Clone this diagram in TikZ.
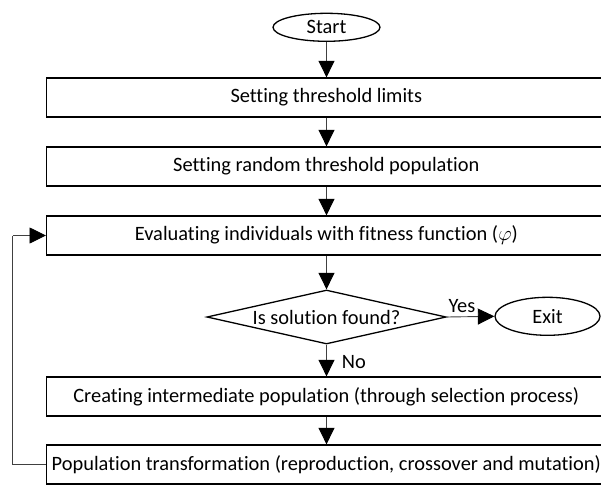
\documentclass[tikz,border=0pt]{standalone}
\usepackage{fontspec}
\setmainfont[Ligatures=CommonOff]{Carlito}
\usetikzlibrary{shapes.geometric,arrows.meta}
\begin{document}
\begin{tikzpicture}[x=1pt,y=-1pt,
  font=\fontsize{20.4}{24}\selectfont,
  procbox/.style={draw=black,line width=1.3pt,minimum width=559.3pt,minimum height=39pt,inner sep=0pt},
  term/.style={draw=black,line width=1.3pt,ellipse,inner sep=0pt},
  decide/.style={draw=black,line width=1.3pt,diamond,inner sep=0pt,minimum width=239.3pt,minimum height=54pt},
  conn/.style={draw=black!75,line width=0.9pt,-{Triangle[width=16pt,length=16.5pt,color=black]}}]
\useasboundingbox (0,0) rectangle (601,487);
\node[term,minimum width=107pt,minimum height=28pt] (start) at (326.5,27.3) {Start};
\node[procbox] (b1) at (326.3,97.5) {Setting threshold limits};
\node[procbox] (b2) at (326.3,166.5) {Setting random threshold population};
\node[procbox] (b3) at (326.3,235.5) {Evaluating individuals with fitness function ($\varphi$)};
\node[decide,label={center:Is solution found?}] (d) at (326.5,317) {};
\node[term,minimum width=105pt,minimum height=38pt] (exit) at (547.5,316.3) {Exit};
\node[procbox] (b4) at (326.3,396.5) {Creating intermediate population (through selection process)};
\node[procbox] (b5) at (326.3,464.5) {Population transformation (reproduction, crossover and mutation)};
\coordinate (lb) at (12.7,464.5);
\coordinate (lt) at (12.7,235.5);
\draw[conn] (start.south) -- (start.south |- b1.north);
\draw[conn] (b1.south -| start.south) -- (start.south |- b2.north);
\draw[conn] (b2.south -| start.south) -- (start.south |- b3.north);
\draw[conn] (b3.south -| d.north) -- (d.north);
\draw[conn] (d.east) -- node[above,pos=0.32,inner sep=4pt] {Yes} (exit.west);
\draw[conn] (d.south) -- node[right,pos=0.55,inner xsep=15pt,inner ysep=0pt] {No} (d.south |- b4.north);
\draw[conn] (b4.south -| d.south) -- (d.south |- b5.north);
\draw[conn,-] (b5.west) -- (lb) -- (lt);
\draw[conn] (lt) -- (b3.west);
\end{tikzpicture}
\end{document}
